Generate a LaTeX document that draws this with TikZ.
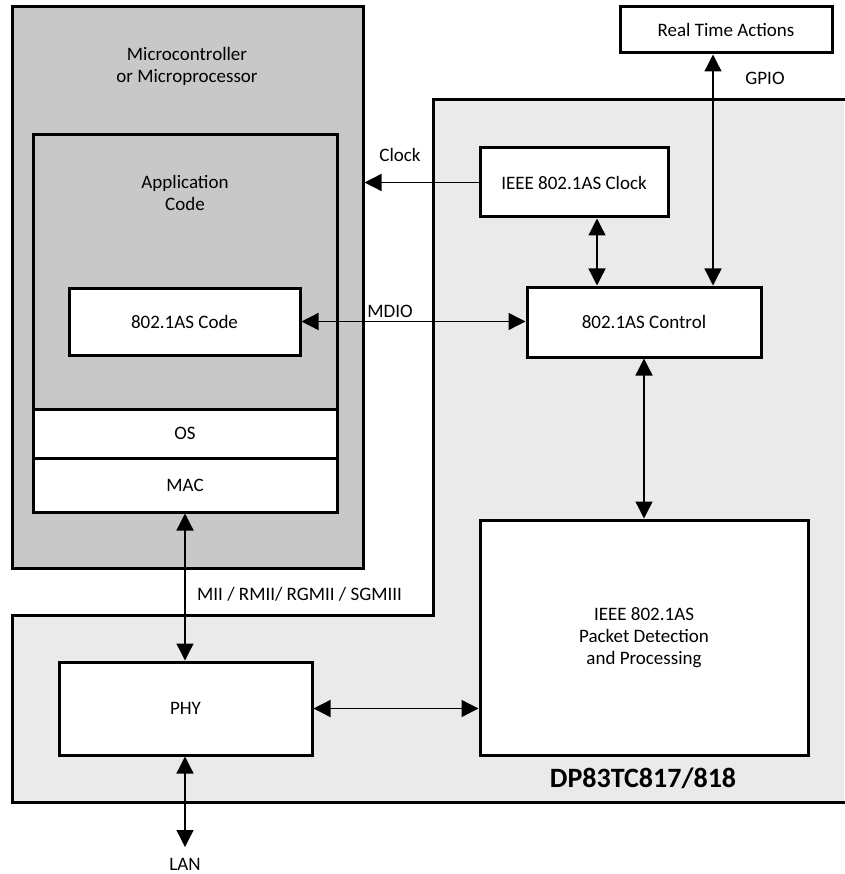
\documentclass[tikz,border=0pt]{standalone}
\usepackage{fontspec}
\setmainfont{Carlito}
\usetikzlibrary{arrows.meta}
\definecolor{mcugray}{RGB}{200,200,200}
\definecolor{dpgray}{RGB}{234,234,234}
\begin{document}
\begin{tikzpicture}[x=1pt,y=-1pt,
  font=\fontsize{19}{22}\selectfont,
  box/.style={draw, line width=3pt, fill=white, rectangle, inner sep=0pt},
  lbl/.style={inner sep=0pt, align=center},
  conn/.style={line width=1.3pt, {Triangle[length=17pt,width=17pt]}-{Triangle[length=17pt,width=17pt]}},
  oneway/.style={line width=1.3pt, -{Triangle[length=17pt,width=17pt]}}]
\useasboundingbox (0,0) rectangle (844,874);
% DP83TC817/818 region
\fill[dpgray] (844,100) -- (433,100) -- (433,615) -- (12,615) -- (12,802) -- (844,802) -- cycle;
\draw[line width=3pt, line join=miter] (845,100) -- (433,100) -- (433,615) -- (12,615) -- (12,802) -- (845,802);
% microcontroller
\node[box, fill=mcugray, minimum width=351pt, minimum height=561pt] (mcu) at (187.5,287.5) {};
\node[box, fill=mcugray, minimum width=304pt, minimum height=377pt] (app) at (185,323.5) {};
\node[box, minimum width=304pt, minimum height=49pt] (os) at (185,433.5) {OS};
\node[box, minimum width=304pt, minimum height=54pt] (mac) at (185,485) {MAC};
\node[box, minimum width=231pt, minimum height=67pt] (code) at (184.5,321.5) {802.1AS Code};
\node[lbl] (mcutxt) at (187,66) {Microcontroller\\or Microprocessor};
\node[lbl] (apptxt) at (185,193) {Application\\Code};
% right side blocks
\node[box, minimum width=212pt, minimum height=46pt] (rta) at (726,30) {Real Time Actions};
\node[box, minimum width=188pt, minimum height=69pt] (iclk) at (574,182.5) {IEEE 802.1AS Clock};
\node[box, minimum width=234pt, minimum height=70pt] (ctrl) at (644,322) {802.1AS Control};
\node[box, minimum width=328pt, minimum height=235pt, align=center] (pkt) at (644,637.5) {IEEE 802.1AS\\Packet Detection\\and Processing};
\node[box, minimum width=253pt, minimum height=93pt] (phy) at (185.5,708.5) {PHY};
\node[lbl, font=\fontsize{28}{32}\selectfont\bfseries] (dp) at (643,778) {DP83TC817/818};
% connectors
\coordinate (xa) at (597,0);
\coordinate (xg) at (713,0);
\coordinate (xm) at (185,0);
\coordinate (lan) at (185,847);
\draw[oneway] (iclk.west) -- (iclk.west -| mcu.east);
\draw[conn] (code.east) -- (code.east -| ctrl.west);
\draw[conn] (iclk.south -| xa) -- (ctrl.north -| xa);
\draw[conn] (rta.south -| xg) -- (ctrl.north -| xg);
\draw[conn] (ctrl.south) -- (pkt.north);
\draw[conn] (mac.south -| xm) -- (phy.north -| xm);
\draw[conn] (phy.east) -- (phy.east -| pkt.west);
\draw[conn] (phy.south -| xm) -- (lan);
% labels
\node[lbl] (clk) at (400,155) {Clock};
\node[lbl] (mdio) at (390,311) {MDIO};
\node[lbl] (gpio) at (765,78) {GPIO};
\node[lbl, anchor=west] (mii) at (197,594) {MII / RMII/ RGMII / SGMIII};
\node[lbl] (lantxt) at (185,864) {LAN};
\end{tikzpicture}
\end{document}
